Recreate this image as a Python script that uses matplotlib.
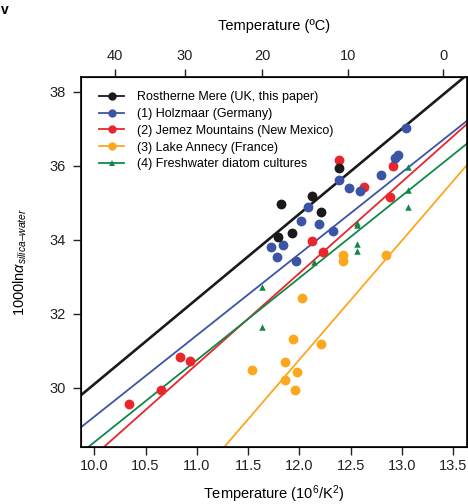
import matplotlib
matplotlib.use("Agg")
import matplotlib.pyplot as plt
from matplotlib.lines import Line2D
import numpy as np

plt.rcParams["font.family"] = ["Liberation Sans", "DejaVu Sans"]
plt.rcParams["mathtext.fontset"] = "custom"
plt.rcParams["mathtext.rm"] = "Liberation Sans"
plt.rcParams["mathtext.it"] = "Liberation Sans:italic"

# data (x = 10^6/T^2, y = 1000 ln alpha)
rost_x = [11.82, 12.12, 12.21, 11.93, 11.79, 12.39]
rost_y = [34.96, 35.18, 34.74, 34.19, 34.08, 35.93]

holz_x = [12.08, 12.02, 12.19, 11.72, 11.84, 11.78, 11.97, 12.33, 12.39, 12.48,
          12.59, 12.80, 12.93, 12.96, 13.04]
holz_y = [34.88, 34.51, 34.44, 33.81, 33.85, 33.54, 33.43, 34.24, 35.61, 35.40,
          35.31, 35.75, 36.22, 36.30, 37.03]

jemez_x = [12.39, 12.63, 12.91, 12.88, 12.12, 12.23, 10.84, 10.93, 10.65, 10.34]
jemez_y = [36.15, 35.43, 35.99, 35.15, 33.97, 33.68, 30.84, 30.72, 29.93, 29.57]

annecy_x = [12.03, 11.94, 12.21, 11.86, 11.54, 11.98, 11.86, 11.96, 12.43, 12.43, 12.84]
annecy_y = [32.42, 31.31, 31.19, 30.70, 30.48, 30.44, 30.21, 29.94, 33.59, 33.42, 33.58]

culture_x = [11.64, 11.64, 12.14, 12.56, 12.56, 12.56, 12.56, 13.06, 13.06, 13.06]
culture_y = [32.72, 31.65, 33.41, 34.46, 34.40, 33.90, 33.69, 34.88, 35.34, 35.96]

# regression lines: slope, intercept
fits = {
    "rost": (2.30, 7.10),
    "holz": (2.20, 7.22),
    "jemez": (2.465, 3.52),
    "annecy": (3.22, -7.88),
    "culture": (2.22, 6.33),
}

labels = ["Rostherne Mere (UK, this paper)", "(1) Holzmaar (Germany)",
          "(2) Jemez Mountains (New Mexico)", "(3) Lake Annecy (France)",
          "(4) Freshwater diatom cultures"]
colors = ["#1a1a1a", "#3b54a5", "#e8262b", "#fca71d", "#11884a"]
celsius_ticks = [40, 30, 20, 10, 0]

fig = plt.figure(figsize=(4.68, 5.04), dpi=100)
ax = fig.add_axes([81 / 468, 1 - 447 / 504, 385.5 / 468, 370 / 504])

xlim = (9.87, 13.63)
ylim = (28.4, 38.4)
xx = np.array(xlim)

keys = ["rost", "holz", "jemez", "annecy", "culture"]
lws = [1.9, 1.3, 1.3, 1.3, 1.3]
for key, c, lw in zip(keys, colors, lws):
    m, b = fits[key]
    ax.plot(xx, m * xx + b, color=c, lw=lw, zorder=2)

ax.scatter(annecy_x, annecy_y, s=50, color=colors[3], zorder=3, linewidths=0)
ax.scatter(jemez_x, jemez_y, s=50, color=colors[2], zorder=3, linewidths=0)
ax.scatter(holz_x, holz_y, s=50, color=colors[1], zorder=3, linewidths=0)
ax.scatter(rost_x, rost_y, s=50, color=colors[0], zorder=4, linewidths=0)
ax.scatter(culture_x, culture_y, s=22, marker="^", color=colors[4], zorder=4, linewidths=0)

ax.set_xlim(xlim)
ax.set_ylim(ylim)
ax.set_xticks(np.arange(10.0, 13.51, 0.5))
ax.set_xticklabels(["%.1f" % v for v in np.arange(10.0, 13.51, 0.5)])
ax.set_yticks([30, 32, 34, 36, 38])
ax.tick_params(axis="x", direction="out", length=6, width=1, labelsize=10.5,
               colors="#222222", pad=3)
ax.tick_params(axis="y", direction="out", length=6, width=1, labelsize=10.5,
               colors="#222222", pad=5)
for s in ax.spines.values():
    s.set_linewidth(1.2)
ax.set_xlabel("Temperature (10$^6$/K$^2$)", fontsize=10.5, labelpad=7)
ax.set_ylabel(r"1000ln$\alpha_{\mathit{silica–water}}$", fontsize=10.5, labelpad=15)

# top axis in degrees C
ax2 = ax.twiny()
ax2.set_xlim(xlim)
ax2.set_xticks([1e6 / (t + 273.15) ** 2 for t in celsius_ticks])
ax2.set_xticklabels([str(t) for t in celsius_ticks])
ax2.tick_params(direction="out", length=6, width=1, labelsize=10.5, colors="#222222", pad=4)
ax2.set_xlabel("Temperature (ºC)", fontsize=10.5, labelpad=14)

handles = []
for c, lab, i in zip(colors, labels, range(5)):
    mk = "^" if i == 4 else "o"
    ms = 4 if i == 4 else 6
    handles.append(Line2D([0], [0], color=c, lw=1.3, marker=mk, markersize=ms,
                          markeredgewidth=0, label=lab))
ax.legend(handles=handles, loc="upper left", frameon=False, fontsize=9,
          handlelength=2.0, handletextpad=1.0, labelspacing=0.38,
          borderaxespad=0.3, bbox_to_anchor=(0.025, 0.985))

fig.text(0.003, 0.972, "v", fontsize=10, fontweight="bold")

fig.savefig("out.png", dpi=100)
